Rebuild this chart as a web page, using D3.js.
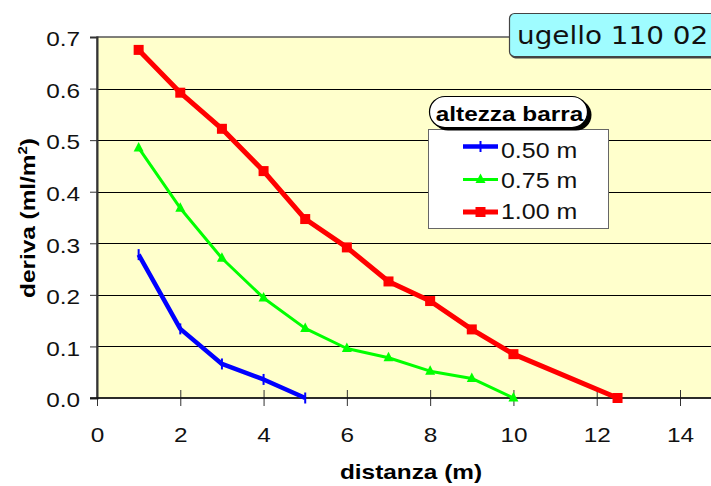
<!DOCTYPE html>
<html>
<head>
<meta charset="utf-8">
<script src="https://cdn.jsdelivr.net/npm/d3@7"></script>
<style>
  html, body { margin: 0; padding: 0; background: #ffffff; }
  svg { display: block; font-family: "Liberation Sans", Arial, sans-serif; }
</style>
</head>
<body>
<svg id="chart" width="711" height="486"></svg>
<script>
// Drift (ml/m²) versus downwind distance (m) for three boom heights
const distances050 = [1, 2, 3, 4, 5];
const values050 = [0.278, 0.134, 0.066, 0.036, 0.0];

const distances075 = [1, 2, 3, 4, 5, 6, 7, 8, 9, 10];
const values075 = [0.485, 0.368, 0.271, 0.194, 0.135, 0.096, 0.078, 0.052, 0.038, 0.0];

const distances100 = [1, 2, 3, 4, 5, 6, 7, 8, 9, 10, 12.5];
const values100 = [0.675, 0.592, 0.522, 0.440, 0.347, 0.292, 0.226, 0.188, 0.133, 0.085, 0.0];

const seriesNames = ["0.50 m", "0.75 m", "1.00 m"];
const xTicks = [0, 2, 4, 6, 8, 10, 12, 14];
const yTicks = [0.0, 0.1, 0.2, 0.3, 0.4, 0.5, 0.6, 0.7];

const series = [
  { name: seriesNames[0], xs: distances050, ys: values050, color: "#0000ff", width: 4.5, marker: "dash" },
  { name: seriesNames[1], xs: distances075, ys: values075, color: "#00ff00", width: 3, marker: "triangle" },
  { name: seriesNames[2], xs: distances100, ys: values100, color: "#ff0000", width: 5, marker: "square" }
];

const svg = d3.select("#chart");
const plotLeft = 97, plotTop = 37, plotBottom = 398;
const xPerUnit = (680 - 97) / 14;
const plotRight = 711 + 20;
const SX = 1.16; // horizontal stretch of all lettering

const x = d3.scaleLinear().domain([0, 14]).range([plotLeft, plotLeft + 14 * xPerUnit]);
const y = d3.scaleLinear().domain([0, 0.7]).range([plotBottom, plotTop]);

// widen text horizontally around its own anchor point
function stretch(sel) {
  sel.each(function () {
    const t = d3.select(this);
    const x0 = +t.attr("x") || 0, y0 = +t.attr("y") || 0;
    t.attr("x", 0).attr("y", 0).attr("transform", `translate(${x0},${y0}) scale(${SX},1)`);
  });
}

// plot area
svg.append("rect")
  .attr("x", plotLeft).attr("y", plotTop)
  .attr("width", plotRight - plotLeft).attr("height", plotBottom - plotTop)
  .attr("fill", "#ffffcc")
  .attr("stroke", "#555555").attr("stroke-width", 1.5);

// horizontal gridlines
svg.append("g")
  .selectAll("line")
  .data(yTicks.filter(t => t > 0 && t < 0.7))
  .join("line")
  .attr("x1", plotLeft).attr("x2", plotRight)
  .attr("y1", d => Math.round(y(d)) + 0.5).attr("y2", d => Math.round(y(d)) + 0.5)
  .attr("stroke", "#000000").attr("stroke-width", 1);

// y axis
const yAxis = svg.append("g")
  .attr("transform", `translate(${plotLeft},0)`)
  .call(d3.axisLeft(y).tickValues(yTicks).tickFormat(d3.format(".1f")).tickSize(7).tickPadding(10));
yAxis.select(".domain").attr("stroke", "#333333").attr("stroke-width", 2);
yAxis.selectAll(".tick line").attr("stroke", "#333333");
yAxis.selectAll(".tick text")
  .attr("font-size", 21).attr("fill", "#111111").attr("dy", "0.42em").attr("x", -17)
  .attr("font-family", "Liberation Sans, Arial, sans-serif")
  .call(stretch);

// x axis
const xAxis = svg.append("g")
  .attr("transform", `translate(0,${plotBottom})`)
  .call(d3.axisBottom(x).tickValues(xTicks).tickFormat(d3.format("d")).tickSize(8));
xAxis.select(".domain").remove();
xAxis.append("line").attr("x1", plotLeft - 7).attr("x2", plotRight).attr("y1", 0).attr("y2", 0)
  .attr("stroke", "#111111").attr("stroke-width", 1.5);
xAxis.selectAll(".tick line").attr("y1", -8).attr("stroke", "#333333");
xAxis.selectAll(".tick text")
  .attr("font-size", 21).attr("fill", "#111111").attr("y", 44).attr("dy", 0)
  .attr("font-family", "Liberation Sans, Arial, sans-serif")
  .call(stretch);

// axis titles
svg.append("text")
  .attr("x", 411).attr("y", 479)
  .attr("text-anchor", "middle")
  .attr("font-size", 21).attr("font-weight", "bold")
  .text("distanza (m)")
  .call(stretch);

const yTitle = svg.append("text")
  .attr("transform", `translate(35,218) rotate(-90) scale(${SX},1)`)
  .attr("text-anchor", "middle")
  .attr("font-size", 21).attr("font-weight", "bold");
yTitle.append("tspan").text("deriva (ml/m");
yTitle.append("tspan").attr("font-size", 13).attr("dy", -8).text("2");
yTitle.append("tspan").attr("dy", 8).text(")");

// markers
function drawMarker(g, type, cx, cy, color) {
  if (type === "square") {
    g.append("rect").attr("x", cx - 5).attr("y", cy - 5).attr("width", 10).attr("height", 10).attr("fill", color);
  } else if (type === "triangle") {
    g.append("path").attr("d", `M${cx},${cy - 6}L${cx + 5},${cy + 3.5}L${cx - 5},${cy + 3.5}Z`).attr("fill", color);
  } else {
    g.append("line").attr("x1", cx).attr("x2", cx).attr("y1", cy - 5.5).attr("y2", cy + 5.5)
      .attr("stroke", color).attr("stroke-width", 2);
  }
}

const line = d3.line().x(d => x(d[0])).y(d => y(d[1]));
series.forEach(s => {
  const pts = s.xs.map((v, i) => [v, s.ys[i]]);
  const g = svg.append("g");
  g.append("path").datum(pts)
    .attr("d", line).attr("fill", "none")
    .attr("stroke", s.color).attr("stroke-width", s.width)
    .attr("stroke-linejoin", "round");
  pts.forEach(p => drawMarker(g, s.marker, x(p[0]), y(p[1]), s.color));
});

// legend
const lg = svg.append("g");
lg.append("rect").attr("x", 428.5).attr("y", 129.5).attr("width", 180).attr("height", 99)
  .attr("fill", "#ffffff").attr("stroke", "#666666").attr("stroke-width", 1);
const rowLine = [146.5, 179.5, 212];
const rowText = [158, 188, 219];
series.forEach((s, i) => {
  const ly = rowLine[i];
  lg.append("line").attr("x1", 463).attr("x2", 498).attr("y1", ly).attr("y2", ly)
    .attr("stroke", s.color).attr("stroke-width", s.width);
  drawMarker(lg, s.marker, 480.5, ly, s.color);
  lg.append("text").attr("x", 501).attr("y", rowText[i])
    .attr("font-size", 21.5).attr("fill", "#111111").text(s.name)
    .call(stretch);
});

// legend title pill with shadow
lg.append("rect").attr("x", 432.5).attr("y", 99.5).attr("width", 159).attr("height", 31).attr("rx", 15.5)
  .attr("fill", "#000000");
lg.append("rect").attr("x", 429.5).attr("y", 96.5).attr("width", 158).attr("height", 31).attr("rx", 15.5)
  .attr("fill", "#ffffff").attr("stroke", "#000000").attr("stroke-width", 1.2);
lg.append("text").attr("x", 509.5).attr("y", 121).attr("text-anchor", "middle")
  .attr("font-size", 21).attr("font-weight", "bold").text("altezza barra")
  .call(stretch);

// chart title box
const tb = svg.append("g");
tb.append("rect").attr("x", 510.5).attr("y", 15).attr("width", 230).attr("height", 43.5).attr("rx", 5)
  .attr("fill", "#444444");
tb.append("rect").attr("x", 509.5).attr("y", 13.5).attr("width", 230).attr("height", 43).attr("rx", 5)
  .attr("fill", "#9ffcff").attr("stroke", "#444444").attr("stroke-width", 1.2);
tb.append("text").attr("x", 517).attr("y", 43.5)
  .attr("font-family", "DejaVu Sans, Verdana, sans-serif")
  .attr("font-size", 24).attr("fill", "#111111").text("ugello 110 02")
  .call(stretch);
</script>
</body>
</html>
